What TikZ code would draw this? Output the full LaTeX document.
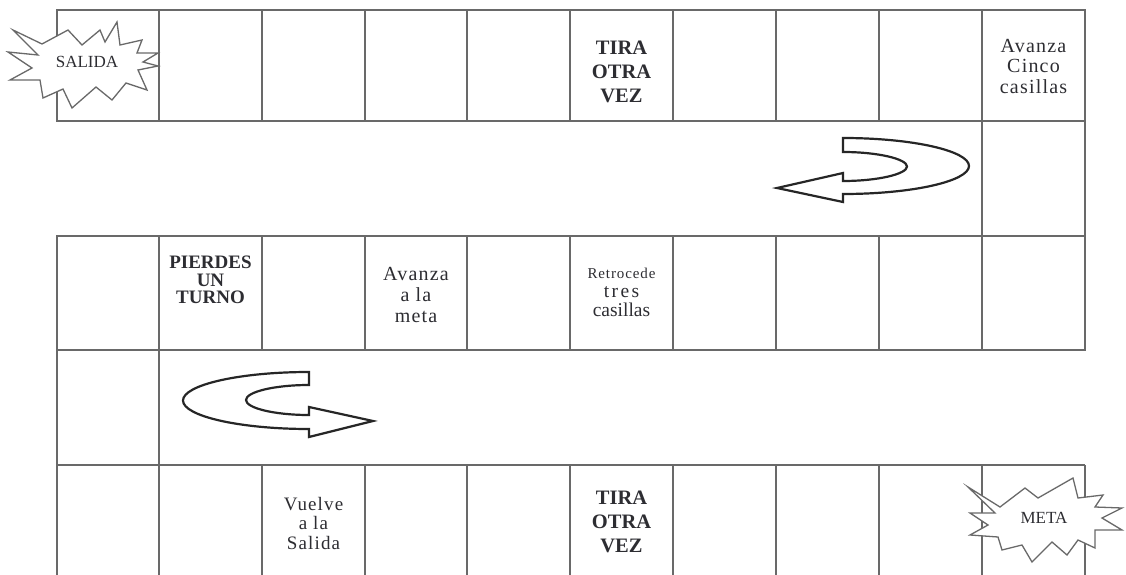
\documentclass[tikz,border=0pt]{standalone}
\usepackage{fontspec}
\setmainfont{Liberation Serif}
\newfontfamily\spacedfont[LetterSpace=6]{Liberation Serif}
\definecolor{gridgray}{RGB}{105,105,105}
\definecolor{textgray}{RGB}{45,45,50}
\begin{document}
\begin{tikzpicture}[x=1pt,y=-1pt,
  grid/.style={draw=gridgray, line width=1.5pt},
  cell/.style={text=textgray, align=center, inner sep=0pt, font=\fontsize{20}{24}\selectfont},
  turnarrow/.style={draw=black!85, line width=2.2pt, fill=white, line join=miter},
  burst/.style={draw=gridgray, line width=1.3pt, fill=white, line join=miter}]
\useasboundingbox[fill=white] (0,0) rectangle (1126,575);

% ---- row 1
\draw[grid] (57,10) rectangle (1085,121);
\foreach \x in {159,262,365,467,570,673,776,879,982}
  \draw[grid] (\x,10) -- (\x,121);
% ---- row 2 (single cell at right)
\draw[grid] (982,121) -- (982,236);
\draw[grid] (1085,121) -- (1085,236);
% ---- row 3
\draw[grid] (57,236) rectangle (1085,350);
\foreach \x in {159,262,365,467,570,673,776,879,982}
  \draw[grid] (\x,236) -- (\x,350);
% ---- row 4 (single cell at left)
\draw[grid] (57,350) -- (57,575);
\draw[grid] (159,350) -- (159,575);
% ---- row 5
\draw[grid] (57,465) -- (1085,465);
\foreach \x in {262,365,467,570,673,776,879,982,1085}
  \draw[grid] (\x,465) -- (\x,575);

% ---- U-turn arrows
\draw[turnarrow] (843,138) -- (843,152)
  .. controls (878,152) and (907,159) .. (907,166.5)
  .. controls (907,174) and (878,181) .. (843,181)
  -- (843,173) -- (777,188) -- (843,202) -- (843,194)
  .. controls (913,194) and (969,181) .. (969,166)
  .. controls (969,151) and (913,138) .. (843,138) -- cycle;
\draw[turnarrow] (309,372) -- (309,385)
  .. controls (274,385) and (246,392) .. (246,400)
  .. controls (246,408) and (274,415) .. (309,415)
  -- (309,407) -- (373,421) -- (309,437) -- (309,429)
  .. controls (239,429) and (183,416) .. (183,400.5)
  .. controls (183,385) and (239,372) .. (309,372) -- cycle;

% ---- starbursts
\draw[burst] (13,30) -- (42,44) -- (68,30) -- (82,45) -- (100,30) -- (105,42)
  -- (117,22) -- (120,45) -- (142,40) -- (137,53) -- (158,53) -- (143,62)
  -- (158,66) -- (138,70) -- (147,90) -- (126,83) -- (112,100) -- (96,87)
  -- (72,108) -- (63,89) -- (43,98) -- (40,80) -- (10,80) -- (32,68)
  -- (8,52) -- (38,55) -- cycle;
\draw[burst] (968,487) -- (1000,507) -- (1025,488) -- (1038,498) -- (1073,478)
  -- (1078,498) -- (1103,495) -- (1095,507) -- (1122,508) -- (1102,518)
  -- (1122,530) -- (1095,530) -- (1095,548) -- (1078,540) -- (1067,555)
  -- (1052,542) -- (1032,562) -- (1022,545) -- (1002,550) -- (998,537)
  -- (970,535) -- (988,525) -- (970,513) -- (995,513) -- cycle;

% ---- texts
\node[cell, font=\fontsize{17}{20}\selectfont] (salida) at (87,62) {SALIDA};
\node[cell, font=\fontsize{17}{20}\selectfont] (meta) at (1044,518) {META};
\node[cell, font=\bfseries\fontsize{20.5}{24}\selectfont] (tira1) at (621.5,72) {TIRA\\OTRA\\VEZ};
\node[cell, font=\spacedfont\fontsize{20}{20.5}\selectfont] (cinco) at (1033.5,66) {Avanza\\Cinco\\casillas};
\node[cell, font=\bfseries\fontsize{19}{17.5}\selectfont] (pierdes) at (210.5,280) {PIERDES\\UN\\TURNO};
\node[cell, font=\spacedfont\fontsize{20}{21}\selectfont] (alameta) at (416,295) {Avanza\\a la\\meta};
\node[cell, font=\fontsize{19.5}{19}\selectfont] (retro) at (621.5,292)
  {{\spacedfont\fontsize{15}{19}\selectfont Retrocede}\\{\spacedfont\addfontfeature{LetterSpace=12} tres}\\casillas};
\node[cell, font=\spacedfont\fontsize{19}{19.5}\selectfont] (vuelve) at (313.5,523) {Vuelve\\a la\\Salida};
\node[cell, font=\bfseries\fontsize{20.5}{24}\selectfont] (tira2) at (621.5,522) {TIRA\\OTRA\\VEZ};
\end{tikzpicture}
\end{document}
